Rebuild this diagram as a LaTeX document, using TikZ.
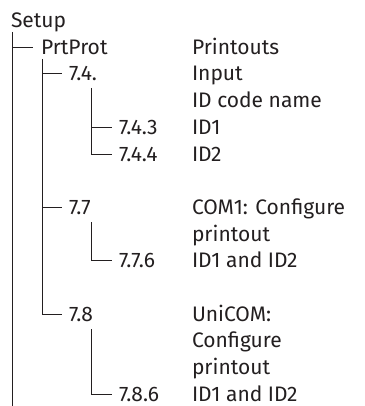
\documentclass[tikz,border=0pt]{standalone}
\usepackage{fontspec}
\setmainfont{Fira Sans}
\usetikzlibrary{calc}
\definecolor{ink}{RGB}{35,31,32}
\tikzset{
  lbl/.style={anchor=base west, inner sep=0pt, outer sep=0pt, text=ink, font=\fontsize{21}{25}\selectfont},
  tree/.style={draw=ink, line width=0.8pt},
}
\begin{document}
\begin{tikzpicture}[x=1pt,y=1pt]
\useasboundingbox (0,0) rectangle (364,-406);
% left column
\node[lbl] (setup) at (11,-27.5) {Setup};
\node[lbl] (prt)   at (41,-54.2) {PrtProt};
\node[lbl] (n74)   at (69,-80.9) {7.4.};
\node[lbl] (n743)  at (119,-134.3) {7.4.3};
\node[lbl] (n744)  at (119,-161.0) {7.4.4};
\node[lbl] (n77)   at (69,-214.4) {7.7};
\node[lbl] (n776)  at (119,-267.8) {7.7.6};
\node[lbl] (n78)   at (69,-321.2) {7.8};
\node[lbl] (n786)  at (119,-401) {7.8.6};
% right column
\node[lbl] (r1)  at (192,-54.2) {Printouts};
\node[lbl] (r2)  at (192,-80.9) {Input};
\node[lbl] (r3)  at (192,-107.6) {ID code name};
\node[lbl] (r4)  at (192,-134.3) {ID1};
\node[lbl] (r5)  at (192,-161.0) {ID2};
\node[lbl] (r7)  at (192,-214.4) {COM1: Configure};
\node[lbl] (r8)  at (192,-241.1) {printout};
\node[lbl] (r9)  at (192,-267.8) {ID1 and ID2};
\node[lbl] (r11) at (192,-321.2) {UniCOM:};
\node[lbl] (r12) at (192,-347.9) {Configure};
\node[lbl] (r13) at (192,-374.6) {printout};
\node[lbl] (r14) at (192,-401) {ID1 and ID2};
% branch points (mid-height of each label, just left of it)
\foreach \n in {prt,n74,n743,n744,n77,n776,n78,n786}{
  \path ([xshift=-7pt,yshift=7pt]\n.base west) coordinate (\n-in);
}
% free ends
\coordinate (end1) at (12,-406);
\coordinate (v74) at (91,-88);
\coordinate (v77) at (91,-222);
\coordinate (v78) at (91,-329);
% level 1
\draw[tree] (12,-32) -- (end1);
\draw[tree] (end1 |- prt-in) -- ([xshift=-1pt]prt-in);
% level 2
\draw[tree] (42,-59) |- (n78-in);
\draw[tree] (42,0 |- n74-in) -- (n74-in);
\draw[tree] (42,0 |- n77-in) -- (n77-in);
% level 3
\draw[tree] (v74) |- (n744-in);
\draw[tree] (v74 |- n743-in) -- (n743-in);
\draw[tree] (v77) |- (n776-in);
\draw[tree] (v78) |- (n786-in);
\end{tikzpicture}
\end{document}
